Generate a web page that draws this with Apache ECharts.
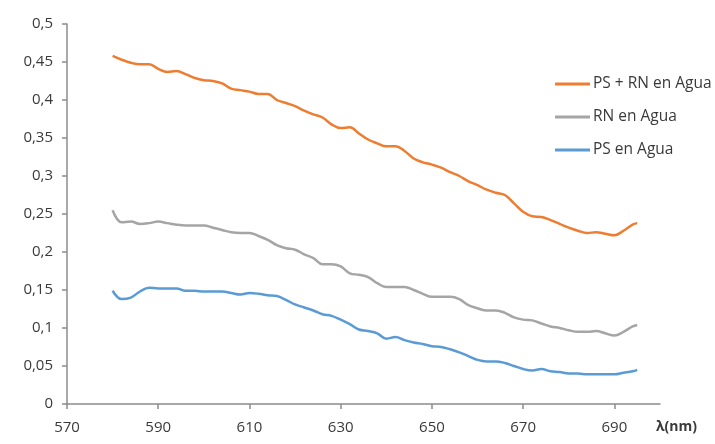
<!DOCTYPE html>
<html>
<head>
<meta charset="utf-8">
<script src="https://cdn.jsdelivr.net/npm/echarts@6/dist/echarts.min.js"></script>
<style>html,body{margin:0;padding:0;background:#fff;}#c{width:715px;height:444px;}</style>
</head>
<body>
<div id="c"></div>
<script>
const wavelengths = [580,582,584,586,588,590,592,594,596,598,600,602,604,606,608,610,612,614,616,618,620,622,624,626,628,630,632,634,636,638,640,642,644,646,648,650,652,654,656,658,660,662,664,666,668,670,672,674,676,678,680,682,684,686,688,690,692,694,695];
const psRnAgua = [0.458,0.453,0.449,0.447,0.447,0.441,0.437,0.438,0.434,0.429,0.426,0.425,0.422,0.415,0.413,0.411,0.408,0.408,0.400,0.396,0.392,0.386,0.381,0.377,0.368,0.363,0.364,0.356,0.348,0.343,0.339,0.339,0.333,0.323,0.318,0.315,0.311,0.305,0.300,0.293,0.288,0.282,0.278,0.275,0.264,0.253,0.247,0.246,0.242,0.237,0.232,0.228,0.225,0.226,0.224,0.222,0.228,0.236,0.238];
const rnAgua = [0.255,0.239,0.240,0.237,0.238,0.240,0.238,0.236,0.235,0.235,0.235,0.232,0.229,0.226,0.225,0.225,0.221,0.216,0.209,0.205,0.203,0.197,0.192,0.184,0.184,0.181,0.172,0.170,0.167,0.159,0.154,0.154,0.154,0.150,0.145,0.141,0.141,0.141,0.138,0.130,0.126,0.123,0.123,0.120,0.114,0.111,0.110,0.106,0.102,0.100,0.097,0.095,0.095,0.096,0.093,0.090,0.095,0.102,0.104];
const psAgua = [0.149,0.138,0.140,0.148,0.153,0.152,0.152,0.152,0.149,0.149,0.148,0.148,0.148,0.146,0.144,0.146,0.145,0.143,0.142,0.137,0.131,0.127,0.123,0.118,0.116,0.111,0.105,0.098,0.096,0.093,0.086,0.088,0.084,0.081,0.079,0.076,0.075,0.072,0.068,0.063,0.058,0.056,0.056,0.054,0.050,0.046,0.044,0.046,0.043,0.042,0.040,0.040,0.039,0.039,0.039,0.039,0.041,0.043,0.045];
const seriesNames = ['PS + RN en Agua','RN en Agua','PS en Agua'];
const xTickValues = [570,590,610,630,650,670,690];
const xAxisName = 'λ(nm)';

const pair = arr => wavelengths.map((w,i)=>[w,arr[i]]);
const fmtY = v => (v===0 ? '0' : String(+v.toFixed(2)).replace('.', ','));
const colors = ['#ED7D31','#A5A5A5','#5B9BD5'];
const chart = echarts.init(document.getElementById('c'), null, {renderer:'canvas'});
chart.setOption({
  animation:false,
  backgroundColor:'#fff',
  color:colors,
  textStyle:{fontFamily:'Open Sans'},
  grid:{left:67, top:24, right:55, bottom:40, containLabel:false},
  legend:{
    orient:'vertical', left:550, top:71, itemWidth:35, itemHeight:3, itemGap:17,
    icon:'rect',
    textStyle:{fontFamily:'Open Sans', fontSize:15.5, color:'#3a3a3a', padding:[0,0,0,-2]},
    data:seriesNames
  },
  xAxis:{
    type:'value', min:570, max:700, interval:20,
    name:xAxisName, nameLocation:'end', nameGap:37,
    nameTextStyle:{fontFamily:'Open Sans', fontSize:14, fontWeight:'bold', color:'#3a3a3a', align:'right', verticalAlign:'top', padding:[16,0,0,0]},
    axisLine:{lineStyle:{color:'#8c8c8c', width:1.5}},
    axisTick:{customValues:xTickValues, length:5, lineStyle:{color:'#8c8c8c', width:1.5}},
    axisLabel:{customValues:xTickValues, fontSize:15, color:'#3a3a3a', margin:16},
    splitLine:{show:false}
  },
  yAxis:{
    type:'value', min:0, max:0.5, interval:0.05,
    axisLine:{show:true, lineStyle:{color:'#8c8c8c', width:1.5}},
    axisTick:{show:true, length:5, lineStyle:{color:'#8c8c8c', width:1.5}},
    axisLabel:{formatter:fmtY, fontSize:15, color:'#3a3a3a', margin:14},
    splitLine:{show:false}
  },
  series:[
    {name:seriesNames[0], type:'line', data:pair(psRnAgua), smooth:0.4, symbol:'none', lineStyle:{width:2.5}},
    {name:seriesNames[1], type:'line', data:pair(rnAgua), smooth:0.4, symbol:'none', lineStyle:{width:2.5}},
    {name:seriesNames[2], type:'line', data:pair(psAgua), smooth:0.4, symbol:'none', lineStyle:{width:2.5}}
  ]
});
</script>
</body>
</html>
